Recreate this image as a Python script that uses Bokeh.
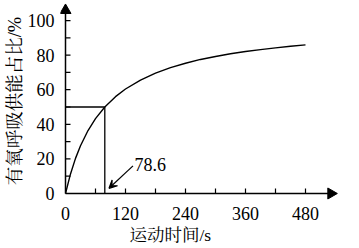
import math
from bokeh.plotting import figure
from bokeh.models import Arrow, VeeHead, FixedTicker, Range1d, Label, Title
from bokeh.embed import file_html
from bokeh.resources import INLINE

# data
time_s = [0, 10, 20, 30, 45, 60, 78.6, 100, 120, 150, 180, 210, 240, 270, 300, 330, 360, 390, 420, 450, 480]
share_pct = [0, 11.3, 20.3, 27.6, 36.4, 43.3, 50, 56, 60.4, 65.6, 69.6, 72.8, 75.3, 77.5, 79.2, 80.8, 82.1, 83.2, 84.2, 85.1, 85.9]
half_time = 78.6
half_value = 50
x_ticks = [0, 120, 240, 360, 480]
x_tick_marks = [60, 120, 180, 240, 300, 360, 420, 480]
y_ticks = [0, 20, 40, 60, 80, 100]
y_tick_marks = [10, 20, 30, 40, 50, 60, 70, 80, 90, 100]
x_title = "运动时间/s"
y_title = "有氧呼吸供能占比/%"
note = "78.6"

FONT = "Liberation Serif, Noto Serif CJK SC, Noto Sans CJK SC"
X_END = 536
Y_END = 108.7

p = figure(width=359, height=248, output_backend="svg", toolbar_location=None,
           x_range=Range1d(-10, 550), y_range=Range1d(-4.05, 111),
           min_border_left=60, min_border_right=19, min_border_top=1, min_border_bottom=48)
p.outline_line_color = None
p.grid.visible = False
p.background_fill_color = "white"

# axis lines with arrow heads
p.line([0, X_END - 8], [0, 0], line_color="black", line_width=1.5)
p.line([0, 0], [0, Y_END - 4], line_color="black", line_width=1.5)
p.scatter([X_END - 5], [0], marker="triangle", size=11, angle=-math.pi / 2,
          fill_color="black", line_color="black")
p.scatter([0], [Y_END - 2.8], marker="triangle", size=11, angle=0,
          fill_color="black", line_color="black")

# tick marks drawn inward from the axis lines
p.multi_line(xs=[[t, t] for t in x_tick_marks], ys=[[0, 2.9] for _ in x_tick_marks],
             line_color="black", line_width=1.2)
p.multi_line(xs=[[0, 10] for _ in y_tick_marks], ys=[[v, v] for v in y_tick_marks],
             line_color="black", line_width=1.2)

p.line(time_s, share_pct, line_color="black", line_width=1.4)
p.line([0, half_time], [half_value, half_value], line_color="black", line_width=1.3)
p.line([half_time, half_time], [0, half_value], line_color="black", line_width=1.3)

for ax in (p.xaxis[0], p.yaxis[0]):
    ax.axis_line_color = None
    ax.major_tick_line_color = None
    ax.minor_tick_line_color = None
    ax.major_label_text_font = FONT
    ax.major_label_text_font_size = "18px"
    ax.major_label_text_color = "black"
    ax.axis_label_text_font = FONT
    ax.axis_label_text_font_size = "18.5px"
    ax.axis_label_text_font_style = "normal"
    ax.axis_label_text_color = "black"

p.xaxis.ticker = FixedTicker(ticks=x_ticks)
p.yaxis.ticker = FixedTicker(ticks=y_ticks)
p.yaxis.axis_label = y_title
p.xaxis.major_label_standoff = 0
p.yaxis.major_label_standoff = 0
p.yaxis.axis_label_standoff = 0

# x-axis title, left of the frame centre as in the reference
p.add_layout(Title(text=x_title, align="left", offset=69, text_font=FONT,
                   text_font_size="17.5px", text_font_style="normal",
                   text_color="black", standoff=0), "below")

# annotation arrow
p.add_layout(Arrow(end=VeeHead(size=8, line_color="black", line_width=1.2),
                   x_start=135, y_start=16, x_end=87, y_end=3, line_width=1.2))
p.add_layout(Label(x=138, y=17, text=note, text_font=FONT, text_font_size="18px",
                   text_color="black", text_baseline="alphabetic"))

open("out.html", "w").write(file_html(p, INLINE))
